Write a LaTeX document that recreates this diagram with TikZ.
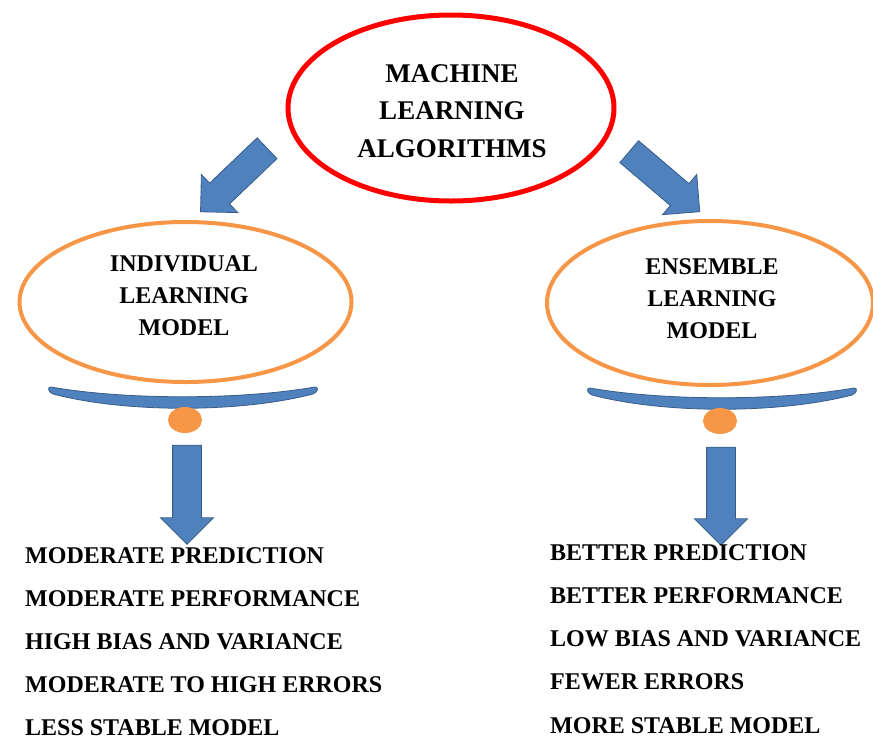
\documentclass[tikz,border=0pt]{standalone}
\usepackage{fontspec}
\setmainfont{Liberation Serif}
\usetikzlibrary{shapes.geometric, shapes.arrows}
\definecolor{mlred}{HTML}{FF0000}
\definecolor{mlorange}{HTML}{F79646}
\definecolor{mlblue}{HTML}{4F81BD}
\definecolor{mlblueline}{HTML}{385D8A}
\tikzset{
    topoval/.style={shape=ellipse, draw=mlred, line width=5pt, inner sep=0pt, minimum width=326pt, minimum height=186pt},
    oval/.style={shape=ellipse, draw=mlorange, line width=4pt, inner sep=0pt, minimum width=332pt, minimum height=160pt},
    toptext/.style={align=center, inner sep=0pt, font=\fontsize{27}{37.5}\selectfont\bfseries},
    ovaltext/.style={align=center, inner sep=0pt, font=\fontsize{24}{32}\selectfont\bfseries},
    listtext/.style={anchor=west, inner sep=0pt, font=\fontsize{24}{28}\selectfont\bfseries},
    blockarrow/.style={shape=single arrow, fill=mlblue, draw=mlblueline, line width=0.8pt,
        inner xsep=0pt, inner ysep=14pt, single arrow head extend=12pt, minimum width=0pt},
    pivot/.style={shape=ellipse, fill=mlorange, inner sep=0pt, minimum width=34pt, minimum height=26pt},
    seesaw/.style={fill=mlblue, draw=mlblueline, line width=0.8pt}
}

\begin{document}
\begin{tikzpicture}[x=1pt, y=-1pt]
    \useasboundingbox (0,0) rectangle (873,740);

    % main oval
    \node[topoval] (ml) at (451,108) {};
    \node[toptext] (mltext) at (452,111) {MACHINE\\LEARNING\\ALGORITHMS};

    % the two models
    \node[oval] (ind) at (185.5,302) {};
    \node[ovaltext] (indtext) at (184,295.5) {INDIVIDUAL\\LEARNING\\MODEL};
    \node[oval, minimum width=326pt, minimum height=164pt] (ens) at (710,303) {};
    \node[ovaltext] (enstext) at (712,298.5) {ENSEMBLE\\LEARNING\\MODEL};

    % arrows from the main oval
    \node[blockarrow, rotate=-136.3, minimum height=92pt] (arrind) at (239,175) {};
    \node[blockarrow, rotate=-40.4, minimum height=92.6pt] (arrens) at (659,177) {};

    % balance bars
    \filldraw[seesaw] (51,387) .. controls (125,400) and (240,400) .. (315,387)
        .. controls (319,387) and (318,392) .. (313,394)
        .. controls (240,413) and (125,413) .. (53,394)
        .. controls (48,392) and (47,387) .. (51,387) -- cycle;
    \begin{scope}[xshift=539pt, yshift=-1pt]
        \filldraw[seesaw] (51,387) .. controls (125,400) and (240,400) .. (315,387)
            .. controls (319,387) and (318,392) .. (313,394)
            .. controls (240,413) and (125,413) .. (53,394)
            .. controls (48,392) and (47,387) .. (51,387) -- cycle;
    \end{scope}
    \node[pivot] (inddot) at (185,420) {};
    \node[pivot] (ensdot) at (720,421) {};

    % arrows down to the lists
    \node[blockarrow, rotate=-90, minimum height=99pt] (downind) at (187,487.5) {};
    \node[blockarrow, rotate=-90, minimum height=98pt] (downens) at (721,489) {};

    % properties
    \foreach \txt [count=\i] in {MODERATE PREDICTION, MODERATE PERFORMANCE, HIGH BIAS AND VARIANCE, MODERATE TO HIGH ERRORS, LESS STABLE MODEL}
        \node[listtext] (ind\i) at (25,{555.5+43*(\i-1)}) {\txt};
    \foreach \txt [count=\i] in {BETTER PREDICTION, BETTER PERFORMANCE, LOW BIAS AND VARIANCE, FEWER ERRORS, MORE STABLE MODEL}
        \node[listtext] (ens\i) at (550,{552.5+43.2*(\i-1)}) {\txt};

\end{tikzpicture}
\end{document}
